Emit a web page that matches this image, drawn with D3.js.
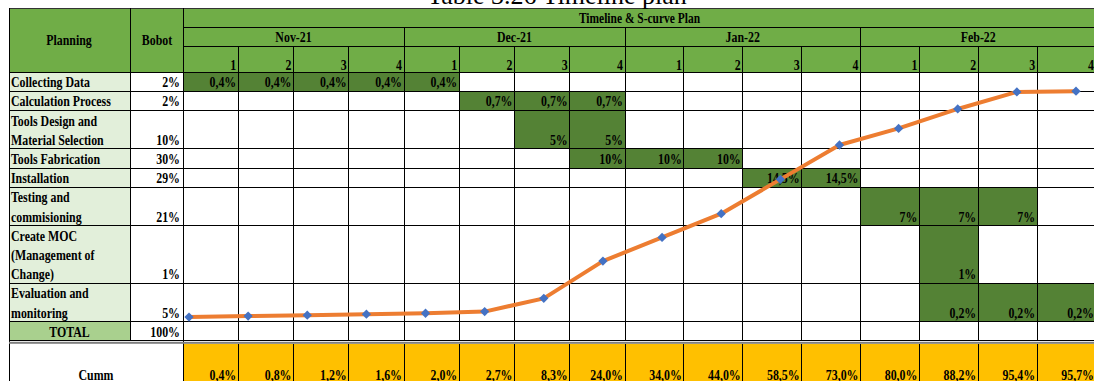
<!DOCTYPE html>
<html>
<head>
  <meta charset="utf-8">
  <script src="https://cdn.jsdelivr.net/npm/d3@7"></script>
  <style>
    body { margin: 0; background: #fff; }
    svg text { font-family: "Liberation Serif", "Times New Roman", serif; font-weight: bold; fill: #000; }
  </style>
</head>
<body>
<script>
  "use strict";

  // ---- data ----
  var months = ["Nov-21", "Dec-21", "Jan-22", "Feb-22"];
  var weekLabels = ["1","2","3","4","1","2","3","4","1","2","3","4","1","2","3","4"];
  var tasks = [
    ["Collecting Data"],
    ["Calculation Process"],
    ["Tools Design and", "Material Selection"],
    ["Tools Fabrication"],
    ["Installation"],
    ["Testing and", "commisioning"],
    ["Create MOC", "(Management of", "Change)"],
    ["Evaluation and", "monitoring"]
  ];
  var bobot = ["2%", "2%", "10%", "30%", "29%", "21%", "1%", "5%"];
  var taskWeeks = [[0,1,2,3,4], [5,6,7], [6,7], [7,8,9], [10,11], [12,13,14], [13], [13,14,15]];
  var taskValues = [0.4, 0.7, 5, 10, 14.5, 7, 1, 0.2];
  var cumm = [0.4, 0.8, 1.2, 1.6, 2.0, 2.7, 8.3, 24.0, 34.0, 44.0, 58.5, 73.0, 80.0, 88.2, 95.4, 95.7];

  var width = 1094, height = 381;
  var left = 9, planRight = 130, bobotRight = 183, right = 1100;
  var lineH = 19.2, headTop = 8, headBottom = 72;
  var fs = 14.5, squeeze = 0.82;   // narrow bold Times look of the sheet

  var pct = function (v) { return (v % 1 ? v.toFixed(1).replace(".", ",") : v) + "%"; };
  var pct1 = function (v) { return v.toFixed(1).replace(".", ",") + "%"; };
  var at = function (x, y) { return "translate(" + x + "," + y + ") scale(" + squeeze + ",1)"; };

  // column edges (weeks in Jan/Feb are a bit wider than Nov/Dec)
  var col = d3.scaleLinear().domain([0, 8, 16]).range([bobotRight, 625, 1096]);
  // s-curve chart overlay
  var cx = d3.scaleLinear().domain([0, 15]).range([189, 1076]);
  var cy = d3.scaleLinear().domain([0, 100]).range([318, 81]);

  // row edges
  var rowTop = [headBottom];
  tasks.forEach(function (t, i) { rowTop.push(rowTop[i] + t.length * lineH); });
  var totalTop = rowTop[tasks.length], totalBottom = totalTop + lineH;
  var cummTop = totalBottom + 3;

  var svg = d3.select("body").append("svg")
    .attr("width", width).attr("height", height);

  function label(x, y, s, anchor, size) {
    return svg.append("text").attr("transform", at(x, y))
      .attr("text-anchor", anchor || "start")
      .style("font-size", (size || fs) + "px").text(s);
  }

  // backgrounds
  svg.append("rect").attr("x", left).attr("y", headTop)
    .attr("width", right - left).attr("height", headBottom - headTop).attr("fill", "#70ad47");
  svg.append("rect").attr("x", left).attr("y", headBottom)
    .attr("width", planRight - left).attr("height", totalTop - headBottom).attr("fill", "#e2efda");
  svg.append("rect").attr("x", left).attr("y", totalTop)
    .attr("width", planRight - left).attr("height", lineH).attr("fill", "#a9d08e");
  svg.append("rect").attr("x", bobotRight).attr("y", cummTop)
    .attr("width", right - bobotRight).attr("height", height - cummTop).attr("fill", "#ffc000");

  // task cells
  var cells = [];
  taskWeeks.forEach(function (ws, i) {
    ws.forEach(function (w) { cells.push({ row: i, week: w, v: taskValues[i] }); });
  });
  svg.append("g").selectAll("rect").data(cells).enter().append("rect")
    .attr("x", function (d) { return col(d.week); })
    .attr("y", function (d) { return rowTop[d.row]; })
    .attr("width", function (d) { return col(d.week + 1) - col(d.week); })
    .attr("height", function (d) { return rowTop[d.row + 1] - rowTop[d.row]; })
    .attr("fill", "#548235");

  // grid lines
  var g = svg.append("g").attr("stroke", "#000").attr("stroke-width", 1).attr("shape-rendering", "crispEdges");
  function hl(y, x1, x2, c) { g.append("line").attr("x1", x1).attr("x2", x2).attr("y1", y).attr("y2", y).attr("stroke", c || "#000"); }
  function vl(x, y1, y2) { g.append("line").attr("x1", x).attr("x2", x).attr("y1", y1).attr("y2", y2); }

  hl(headTop, left, right, "#333");
  hl(27, bobotRight, right);
  hl(46, bobotRight, right);
  rowTop.forEach(function (y) { hl(y, left, right); });
  hl(totalBottom, left, right);
  svg.append("rect").attr("x", left).attr("y", totalBottom + 1).attr("width", right - left).attr("height", 2).attr("fill", "#7f7f7f");

  vl(left, headTop, height);
  vl(planRight, headTop, totalBottom);
  vl(bobotRight, headTop, height);
  d3.range(1, 16).forEach(function (w) {
    vl(col(w), w % 4 === 0 ? 27 : 46, totalBottom);
    vl(col(w), cummTop, height);
  });

  // header text
  svg.append("text").attr("x", 557).attr("y", 4).attr("text-anchor", "middle")
    .style("font-weight", "normal").style("font-size", "26px").text("Table 3.26 Timeline plan");
  label(69, 45, "Planning", "middle");
  label(157, 45, "Bobot", "middle");
  label((col(0) + col(16)) / 2, 23, "Timeline & S-curve Plan", "middle", 14);
  svg.append("g").selectAll("text").data(months).enter().append("text")
    .attr("transform", function (d, i) { return at((col(i * 4) + col(i * 4 + 4)) / 2, 42); })
    .attr("text-anchor", "middle").style("font-size", fs + "px")
    .text(function (d) { return d; });
  svg.append("g").selectAll("text").data(weekLabels).enter().append("text")
    .attr("transform", function (d, i) { return at(col(i + 1) - 2, 70); })
    .attr("text-anchor", "end").style("font-size", fs + "px")
    .text(function (d) { return d; });

  // row labels
  tasks.forEach(function (lines, i) {
    lines.forEach(function (s, j) {
      label(left + 2, rowTop[i] + (j + 1) * lineH - 4, s);
    });
    label(bobotRight - 3, rowTop[i + 1] - 4, bobot[i], "end");
  });
  label((left + planRight) / 2, totalBottom - 4, "TOTAL", "middle");
  label(bobotRight - 3, totalBottom - 4, "100%", "end");

  // cell values
  svg.append("g").selectAll("text").data(cells).enter().append("text")
    .attr("transform", function (d) { return at(col(d.week + 1) - 2, rowTop[d.row + 1] - 4); })
    .attr("text-anchor", "end").style("font-size", fs + "px")
    .text(function (d) { return pct(d.v); });

  // cumulative row
  label(96, 380, "Cumm", "middle");
  svg.append("g").selectAll("text").data(cumm).enter().append("text")
    .attr("transform", function (d, i) { return at(col(i + 1) - 2, 380); })
    .attr("text-anchor", "end").style("font-size", fs + "px")
    .text(function (d) { return pct1(d); });

  // s-curve
  var line = d3.line()
    .x(function (d, i) { return cx(i); })
    .y(function (d) { return cy(d); });
  svg.append("path").datum(cumm).attr("d", line)
    .attr("fill", "none").attr("stroke", "#ed7d31").attr("stroke-width", 4)
    .attr("stroke-linejoin", "round");
  svg.append("g").selectAll("path").data(cumm).enter().append("path")
    .attr("d", d3.symbol().type(d3.symbolDiamond2).size(55))
    .attr("transform", function (d, i) { return "translate(" + cx(i) + "," + cy(d) + ")"; })
    .attr("fill", "#4472c4");
</script>
</body>
</html>
